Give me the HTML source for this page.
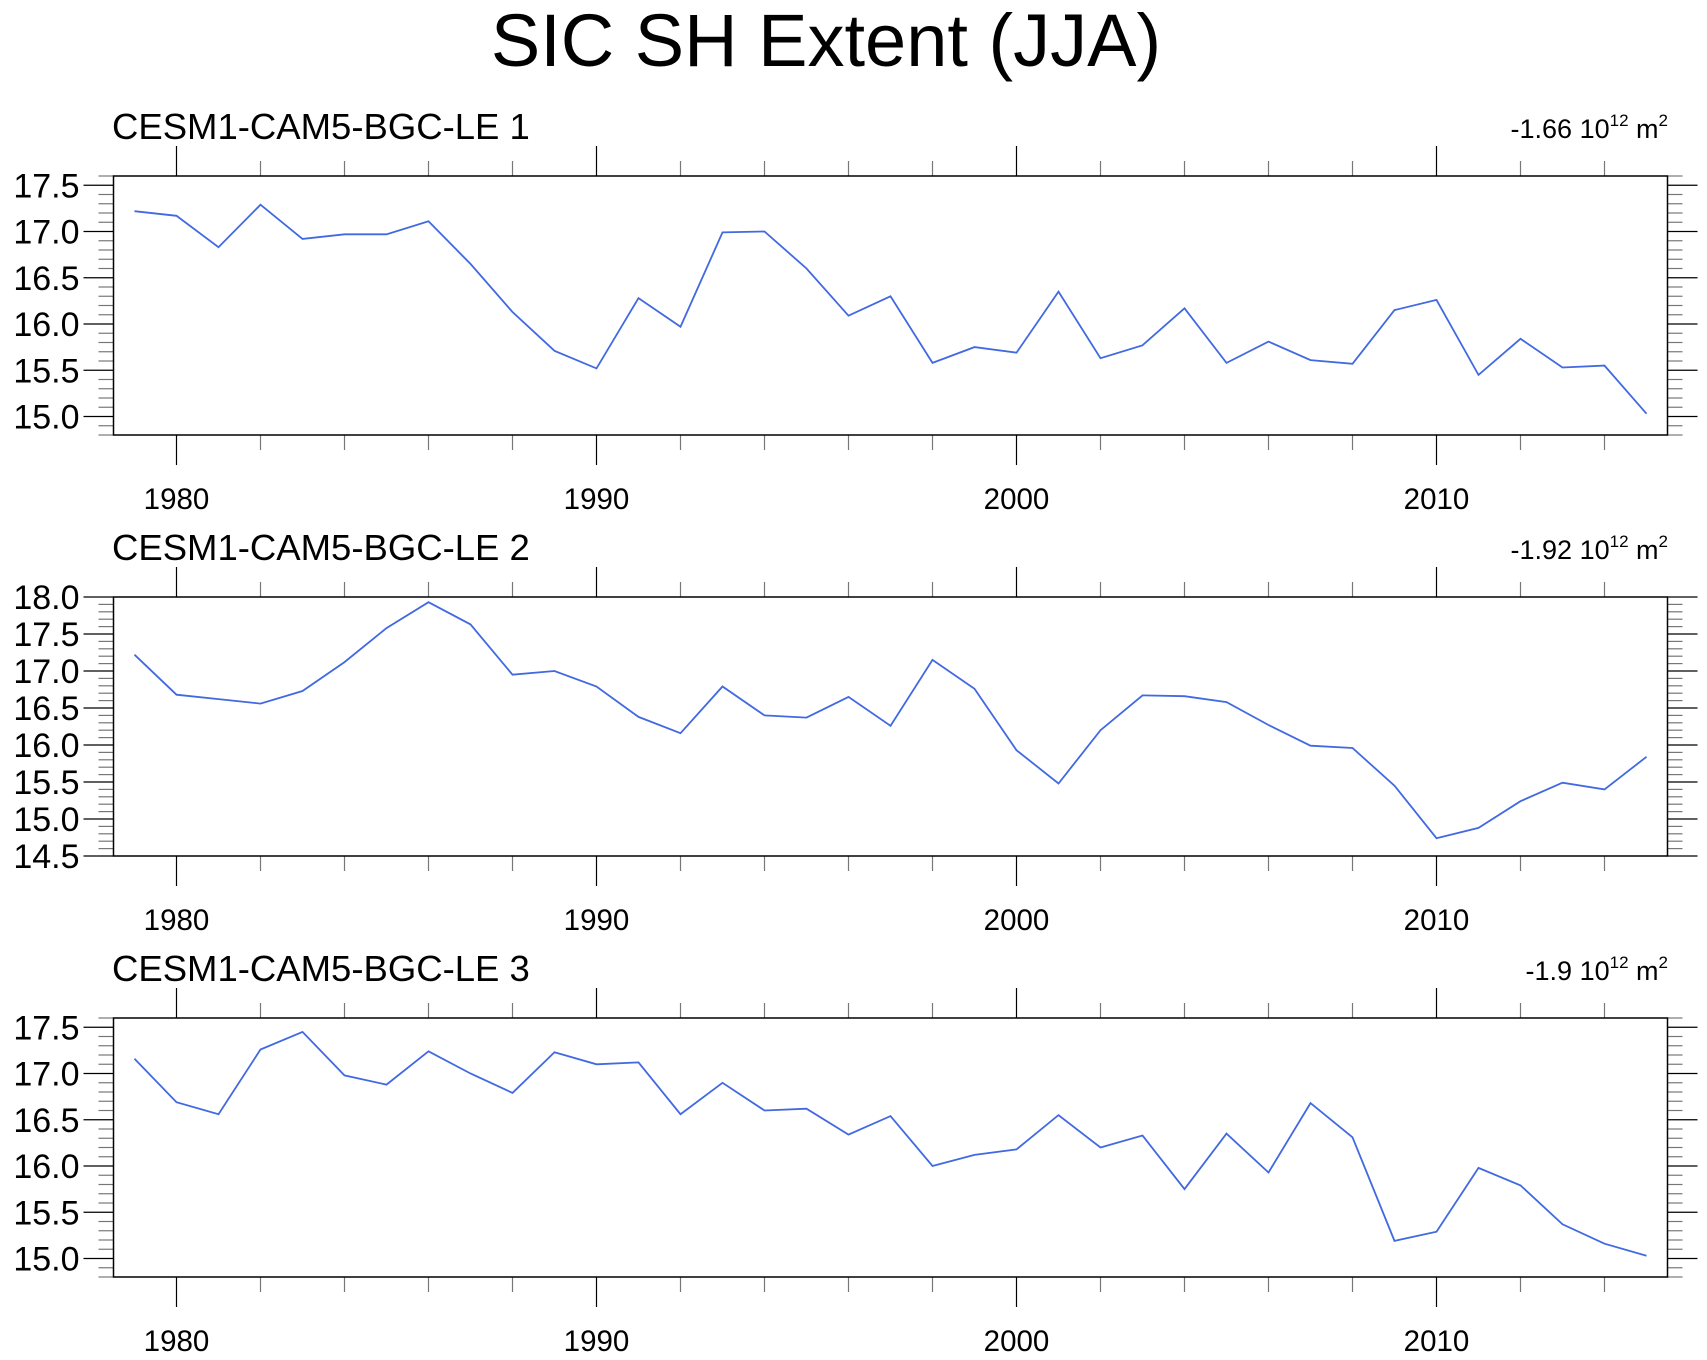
<!DOCTYPE html>
<html><head><meta charset="utf-8"><style>
html,body{margin:0;padding:0;background:#fff;}
svg{display:block;font-family:"Liberation Sans",sans-serif;}
</style></head><body>
<svg id="chart" width="1707" height="1360" viewBox="0 0 1707 1360" xmlns="http://www.w3.org/2000/svg">
<text x="826" y="66" font-size="74" text-anchor="middle">SIC SH Extent (JJA)</text>
</svg>
<script>
const years = [];
for (let y = 1979; y <= 2015; y++) years.push(y);
const panelTitles = ["CESM1-CAM5-BGC-LE 1","CESM1-CAM5-BGC-LE 2","CESM1-CAM5-BGC-LE 3"];
const trendValues = ["-1.66","-1.92","-1.9"];
const series1 = [17.22,17.17,16.83,17.29,16.92,16.97,16.97,17.11,16.65,16.13,15.71,15.52,16.28,15.97,16.99,17.00,16.60,16.09,16.30,15.58,15.75,15.69,16.35,15.63,15.77,16.17,15.58,15.81,15.61,15.57,16.15,16.26,15.45,15.84,15.53,15.55,15.03];
const series2 = [17.22,16.68,16.62,16.56,16.73,17.12,17.58,17.93,17.63,16.95,17.00,16.79,16.38,16.16,16.79,16.40,16.37,16.65,16.26,17.15,16.76,15.93,15.48,16.20,16.67,16.66,16.58,16.27,15.99,15.96,15.45,14.74,14.88,15.24,15.49,15.40,15.84];
const series3 = [17.16,16.69,16.56,17.26,17.45,16.98,16.88,17.24,17.00,16.79,17.23,17.10,17.12,16.56,16.90,16.60,16.62,16.34,16.54,16.00,16.12,16.18,16.55,16.20,16.33,15.75,16.35,15.93,16.68,16.31,15.19,15.29,15.98,15.79,15.37,15.16,15.03];
const yMin1 = 14.8, yMax1 = 17.6;
const yMin2 = 14.5, yMax2 = 18.0;
const yMin3 = 14.8, yMax3 = 17.6;
const yTicks1 = [15.0,15.5,16.0,16.5,17.0,17.5];
const yTicks2 = [14.5,15.0,15.5,16.0,16.5,17.0,17.5,18.0];
const yTicks3 = [15.0,15.5,16.0,16.5,17.0,17.5];
const xTicks = [1980,1990,2000,2010];

const svg = document.getElementById('chart');
const NS = 'http://www.w3.org/2000/svg';
const L = 113.5, R = 1667.5, H = 259, X0 = 1978.5, X1 = 2015.5;
const tops = [176, 597, 1018];
function mk(tag, attrs, parent){const e=document.createElementNS(NS,tag);for(const k in attrs)e.setAttribute(k,attrs[k]);(parent||svg).appendChild(e);return e;}
const xs = v => L + (v - X0) / (X1 - X0) * (R - L);

const panels = [
 {s:series1,min:yMin1,max:yMax1,ticks:yTicks1},
 {s:series2,min:yMin2,max:yMax2,ticks:yTicks2},
 {s:series3,min:yMin3,max:yMax3,ticks:yTicks3}];

panels.forEach((p,i)=>{
  const T = tops[i], B = T + H;
  const ys = v => B - (v - p.min) / (p.max - p.min) * H;
  const g = mk('g',{});
  
  
  for (let k = Math.ceil(p.min*10-1e-6); k <= Math.floor(p.max*10+1e-6); k++){
    const v = k/10, y = ys(v);
    const major = Math.abs(v*2 - Math.round(v*2)) < 1e-6;
    const len = major ? 30 : 15;
    mk('line',{x1:L-len,x2:L,y1:y,y2:y,stroke:major?'#000':'#777','stroke-width':1.2},g);
    mk('line',{x1:R,x2:R+len,y1:y,y2:y,stroke:major?'#000':'#777','stroke-width':1.2},g);
  }
  p.ticks.forEach(v=>{
    const t = mk('text',{x:L-34,y:ys(v)+12,'font-size':34,'text-anchor':'end'},g);
    
    
    t.textContent = v.toFixed(1);
  });
  for (let yr = 1980; yr <= 2014; yr += 2){
    const major = yr % 10 === 0, len = major ? 30 : 15, x = xs(yr);
    mk('line',{x1:x,x2:x,y1:T-len,y2:T,stroke:major?'#000':'#777','stroke-width':1.2},g);
    mk('line',{x1:x,x2:x,y1:B,y2:B+len,stroke:major?'#000':'#777','stroke-width':1.2},g);
  }
  xTicks.forEach(yr=>{
    const t = mk('text',{x:xs(yr),y:B+74,'font-size':29.5,'text-anchor':'middle'},g);
    
    
    t.textContent = yr;
  });
  const fr = mk('rect',{x:L,y:T,width:R-L,height:H,fill:'none',stroke:'#000','stroke-width':1.5},g);
  
  
  const pts = p.s.map((v,j)=>xs(years[j]).toFixed(1)+','+ys(v).toFixed(1)).join(' ');
  const line = mk('polyline',{points:pts,fill:'none',stroke:'#4169E1','stroke-width':1.8},g);
  
  
  const tl = mk('text',{x:112,y:T-37,'font-size':36.5},g);
  
  
  tl.textContent = panelTitles[i];
  const tr = mk('text',{x:1668,y:T-38,'font-size':27,'text-anchor':'end'},g);
  
  
  tr.innerHTML = trendValues[i]+' 10<tspan font-size="17" dy="-12">12</tspan><tspan dy="12"> m</tspan><tspan font-size="17" dy="-12">2</tspan>';
});
</script>
</body></html>
